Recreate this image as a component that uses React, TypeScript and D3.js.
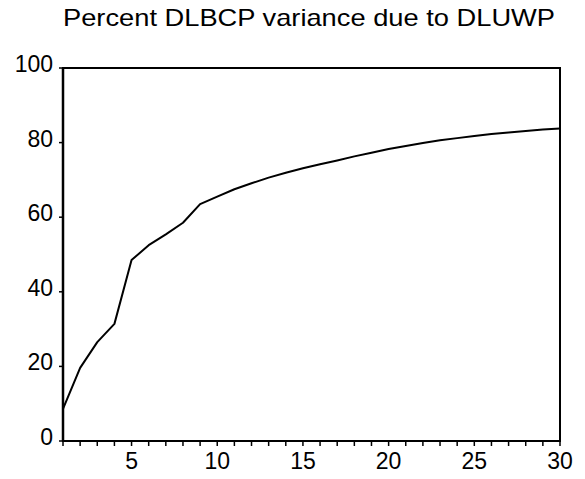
import React from "react";
import * as d3 from "d3";

// Forecast horizon (periods) and percent of DLBCP variance explained by DLUWP
const periods = [
  1, 2, 3, 4, 5, 6, 7, 8, 9, 10, 11, 12, 13, 14, 15,
  16, 17, 18, 19, 20, 21, 22, 23, 24, 25, 26, 27, 28, 29, 30,
];
const percentVariance = [
  8.6, 19.6, 26.5, 31.4, 48.5, 52.5, 55.4, 58.5, 63.5, 65.5, 67.5, 69.1, 70.6, 71.9, 73.1,
  74.2, 75.2, 76.3, 77.3, 78.3, 79.1, 79.9, 80.6, 81.2, 81.8, 82.3, 82.7, 83.1, 83.5, 83.8,
];
const xTickLabels = [5, 10, 15, 20, 25, 30];
const yTickLabels = [0, 20, 40, 60, 80, 100];
const title = "Percent DLBCP variance due to DLUWP";

const W = 585;
const H = 479;
const left = 63;
const right = 560;
const top = 68;
const bottom = 441;
const font = "'Liberation Sans', Arial, sans-serif";

export default function App() {
  const x = d3.scaleLinear().domain([1, 30]).range([left, right]);
  const y = d3.scaleLinear().domain([0, 100]).range([bottom, top]);

  const line = d3
    .line<number>()
    .x((_, i) => x(periods[i]))
    .y((d) => y(d));

  return (
    <svg
      width={W}
      height={H}
      style={{ position: "absolute", left: 0, top: 0, background: "#fff" }}
    >
      <text
        x={63}
        y={26}
        fontFamily={font}
        fontSize={24}
        textLength={492}
        lengthAdjust="spacingAndGlyphs"
        fill="#000"
      >
        {title}
      </text>

      {/* frame */}
      <rect
        x={left}
        y={top}
        width={right - left}
        height={bottom - top}
        fill="none"
        stroke="#000"
        strokeWidth={2}
      />
      <line x1={left} x2={left} y1={top} y2={bottom} stroke="#000" strokeWidth={2.5} />

      {/* y ticks */}
      {yTickLabels.map((v) => (
        <g key={`y${v}`}>
          <line x1={left - 4} x2={left} y1={y(v)} y2={y(v)} stroke="#000" strokeWidth={1.5} />
          <text
            x={left - 10}
            y={y(v) + 4}
            textAnchor="end"
            fontFamily={font}
            fontSize={23}
            fill="#000"
          >
            {v}
          </text>
        </g>
      ))}

      {/* x ticks at every period */}
      {periods.map((p) => (
        <line
          key={`xt${p}`}
          x1={x(p)}
          x2={x(p)}
          y1={bottom}
          y2={bottom + 5}
          stroke="#000"
          strokeWidth={1.5}
        />
      ))}
      {xTickLabels.map((v) => (
        <text
          key={`xl${v}`}
          x={x(v)}
          y={469}
          textAnchor="middle"
          fontFamily={font}
          fontSize={23}
          fill="#000"
        >
          {v}
        </text>
      ))}

      <path
        d={line(percentVariance) ?? ""}
        fill="none"
        stroke="#000"
        strokeWidth={2}
        strokeLinejoin="round"
      />
    </svg>
  );
}
